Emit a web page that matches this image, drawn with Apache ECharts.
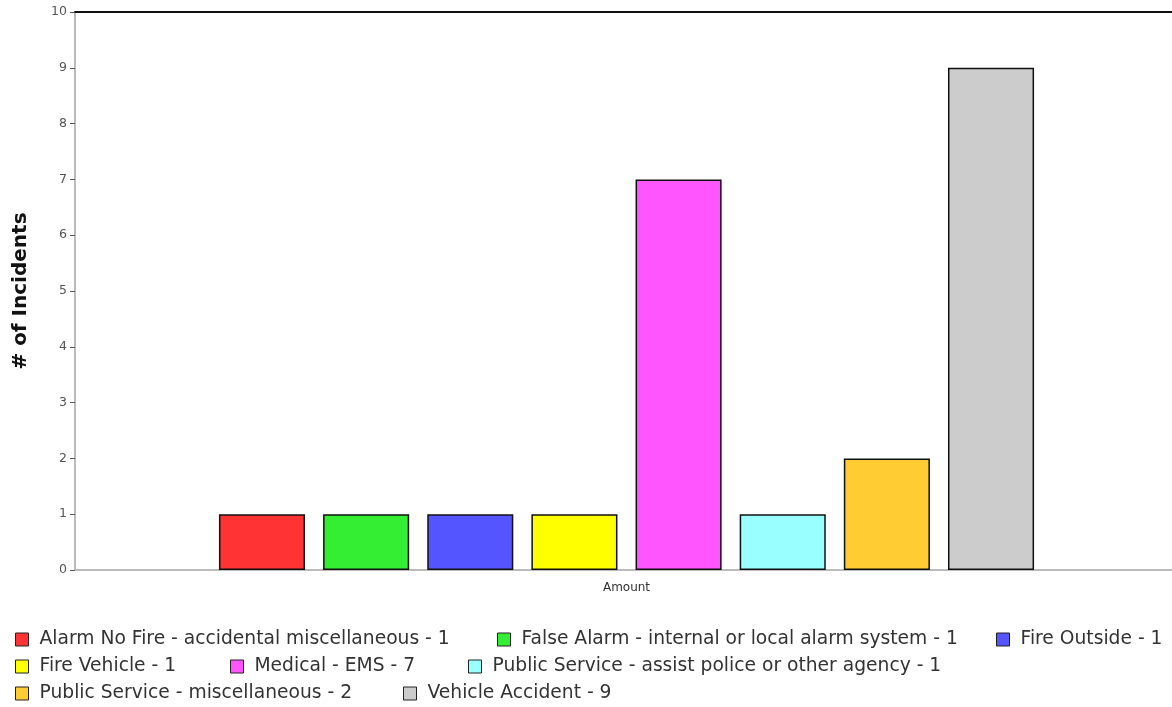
<!DOCTYPE html>
<html><head><meta charset="utf-8">
<script src="https://cdn.jsdelivr.net/npm/echarts@6/dist/echarts.min.js"></script>
<style>html,body{margin:0;padding:0;background:#fff}#c{width:1172px;height:707px}</style>
</head><body><div id="c"></div>
<script>
const categories = ['Amount'];
const seriesNames = ['Alarm No Fire - accidental miscellaneous', 'False Alarm - internal or local alarm system', 'Fire Outside', 'Fire Vehicle', 'Medical - EMS', 'Public Service - assist police or other agency', 'Public Service - miscellaneous', 'Vehicle Accident'];
const seriesValues = [1, 1, 1, 1, 7, 1, 2, 9];
const colors = ['#ff3333', '#33ee33', '#5555ff', '#ffff00', '#ff55ff', '#99ffff', '#ffcc33', '#cccccc'];
const yTicks = [0,1,2,3,4,5,6,7,8,9,10];
const legendPos = [[15,630],[497,630],[996,630],[15,657],[230,657],[468,657],[15,684],[403,684]];

const FONT = 'DejaVu Sans, Verdana, sans-serif';
const names = seriesNames.map((n,i)=> n + ' - ' + seriesValues[i]);
const chart = echarts.init(document.getElementById('c'));
chart.setOption({
  animation:false,
  grid:{left:75,width:1103,top:12,height:558, outerBoundsMode:'none', containLabel:false},
  legend: names.map((n,i)=>({
    data:[n], left:legendPos[i][0], top:legendPos[i][1], padding:0,
    icon:'rect', itemWidth:13, itemHeight:13, itemGap:0,
    textStyle:{fontFamily:FONT, fontSize:18.7, color:'#333', padding:[0,0,0,6]},
    itemStyle:{borderColor:'#222', borderWidth:1}
  })),
  xAxis:[{
    type:'category', data:categories,
    axisLine:{lineStyle:{color:'#bbb', width:2}},
    axisTick:{show:false},
    axisLabel:{fontFamily:FONT, fontSize:12, color:'#333', margin:12}
  },{
    type:'category', position:'top', data:categories,
    axisLine:{show:true, lineStyle:{color:'#111', width:2}},
    axisTick:{show:false}, axisLabel:{show:false}
  }],
  yAxis:{
    type:'value', min:0, max:10, interval:1,
    name:'# of Incidents', nameLocation:'middle', nameRotate:90, nameGap:44,
    nameTextStyle:{fontFamily:FONT, fontSize:20, fontWeight:'bold', color:'#111'},
    axisLine:{show:true, lineStyle:{color:'#bbb', width:2}},
    axisTick:{show:true, length:5, lineStyle:{color:'#555'}},
    splitLine:{show:false},
    axisLabel:{fontFamily:FONT, fontSize:12.5, color:'#555', margin:8,
      formatter:v=> yTicks.includes(v) ? String(v) : ''}
  },
  series: names.map((n,i)=>({
    name:n, type:'bar', data:[seriesValues[i]],
    barGap:'21%', barCategoryGap:'26.1%',
    itemStyle:{color:colors[i], borderColor:'#111', borderWidth:1.5}
  }))
});
</script></body></html>
